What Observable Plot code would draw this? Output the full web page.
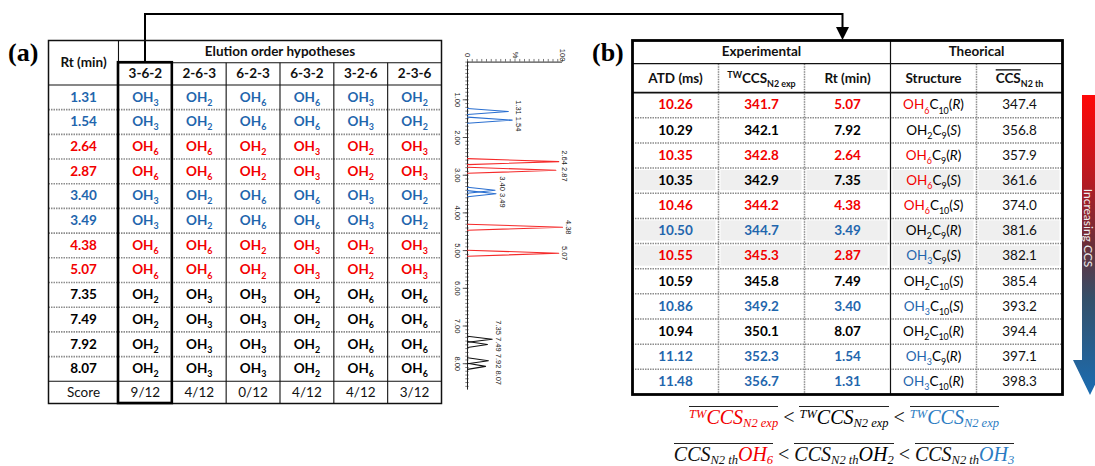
<!DOCTYPE html>
<html><head><meta charset="utf-8">
<script src="https://cdn.jsdelivr.net/npm/d3@7"></script>
<script src="https://cdn.jsdelivr.net/npm/@observablehq/plot@0.6"></script>
<style>
html,body{margin:0;padding:0;background:#fff;}
#root{position:relative;width:1095px;height:466px;overflow:hidden;background:#fff;font-family:Lato,sans-serif;}
.formula{position:absolute;left:594px;width:500px;text-align:center;font-family:"Liberation Serif",serif;font-style:italic;font-size:20px;line-height:19px;white-space:nowrap;}
.formula .ov{display:inline-block;border-top:1.3px solid #222;padding-top:1px;line-height:18px;}
.formula sub,.formula sup{font-size:12.5px;line-height:0;}
.formula sub{vertical-align:-3px;}
.formula sup{vertical-align:6px;}
.formula .lt{font-style:normal;margin:0 5px;color:#111;}
</style></head>
<body><div id="root"></div>
<script>
// ---------- colours by hydroxylation type ----------
const RED = "#f20000", BLUE = "#1f66ad", BLACK = "#000";
const typeDomain = ["OH6", "OH2", "OH3"];
const typeRange = [RED, BLACK, BLUE];

// ---------- table (a) ----------
const rtValues = ["1.31","1.54","2.64","2.87","3.40","3.49","4.38","5.07","7.35","7.49","7.92","8.07"];
const rtType   = ["OH3","OH3","OH6","OH6","OH3","OH3","OH6","OH6","OH2","OH2","OH2","OH2"];
const hypotheses = ["3-6-2","2-6-3","6-2-3","6-3-2","3-2-6","2-3-6"];
const groupOrder = ["OH3","OH6","OH2"]; // order of groups inside a hypothesis label
const scores = ["9/12","4/12","0/12","4/12","4/12","3/12"];

// ---------- chromatogram ----------
const peakRt = [1.31,1.54,2.64,2.87,3.40,3.49,4.38,5.07,7.35,7.49,7.92,8.07];
const peakHeight = [43,47,96,93,29,30,100,96,26,21,22,19];
const peakLabelGroups = [["1.31","1.54"],["2.64","2.87"],["3.40","3.49"],["4.38"],["5.07"],["7.35","7.49","7.92","8.07"]];
const timeTicks = [1,2,3,4,5,6,7,8];
const intensityLabels = ["0","%","100"];
const intensityLabelPos = [0,50,100];

// ---------- table (b) ----------
const atd    = ["10.26","10.29","10.35","10.35","10.46","10.50","10.55","10.59","10.86","10.94","11.12","11.48"];
const ccsExp = ["341.7","342.1","342.8","342.9","344.2","344.7","345.3","345.8","349.2","350.1","352.3","356.7"];
const rtB    = ["5.07","7.92","2.64","7.35","4.38","3.49","2.87","7.49","3.40","8.07","1.54","1.31"];
const structOH   = ["6","2","6","6","6","2","3","2","3","2","3","3"];
const structC    = ["10","9","9","9","10","9","9","10","10","10","9","10"];
const structChir = ["R","S","R","S","S","R","S","S","S","R","R","R"];
const ccsTh  = ["347.4","356.8","357.9","361.6","374.0","381.6","382.1","385.4","393.2","394.4","397.1","398.3"];
const headersB = ["ATD (ms)","^{TW}CCS_{N2 exp}","Rt (min)","Structure","!{CCS}_{N2 th}"];
const groupsB = ["Experimental","Theorical"];

// ---------- formulas ----------
const expColors = [RED, BLACK, "#2c7cc2"];
const thOH = ["6","2","3"];
const thColors = [RED, BLACK, "#2c7cc2"];

const root = document.getElementById("root");
function place(el, left, top) {
  el.style.position = "absolute"; el.style.left = left + "px"; el.style.top = top + "px";
  root.appendChild(el); return el;
}
const FS = 13.5;
const baseStyle = {fontFamily: "Lato, sans-serif", fontSize: FS + "px", background: "transparent", overflow: "visible", maxWidth: "none"};

function richText(svg, fs) {
  svg.querySelectorAll("text").forEach(t => {
    const s = t.textContent;
    if (!/[_^!]\{|\*|~/.test(s)) return;
    const segs = [];
    let italic = false, black = false, i = 0;
    while (i < s.length) {
      const c = s[i];
      if ("_^!".includes(c) && s[i+1] === "{") {
        const j = s.indexOf("}", i + 2);
        segs.push({text: s.slice(i+2, j), mode: c === "_" ? "sub" : c === "^" ? "sup" : "over", italic, black});
        i = j + 1;
      } else if (c === "*") { italic = !italic; i++; }
      else if (c === "~") { black = true; i++; }
      else {
        let j = i + 1;
        while (j < s.length && !("*~".includes(s[j]) || ("_^!".includes(s[j]) && s[j+1] === "{"))) j++;
        segs.push({text: s.slice(i, j), mode: "normal", italic, black});
        i = j;
      }
    }
    t.textContent = "";
    let shift = 0;
    for (const g of segs) {
      const sp = document.createElementNS("http://www.w3.org/2000/svg", "tspan");
      sp.textContent = g.text;
      let target = 0;
      if (g.mode === "sub") { target = 0.3 * fs; sp.setAttribute("font-size", 0.66 * fs); }
      else if (g.mode === "sup") { target = -0.42 * fs; sp.setAttribute("font-size", 0.66 * fs); }
      if (g.mode === "over") sp.setAttribute("text-decoration", "overline");
      const dy = target - shift;
      if (dy) sp.setAttribute("dy", dy);
      shift = target;
      if (g.italic) sp.setAttribute("font-style", "italic");
      if (g.black) sp.setAttribute("fill", "#000");
      t.appendChild(sp);
    }
  });
}

// ================= TABLE (a) =================
{
  const W = 397, H = 368;
  const rtW = 1.3, hdr = 0.9, top = 2 * hdr, n = rtValues.length;
  const xMax = rtW + hypotheses.length, yMax = top + n + hdr;
  const rows = rtValues.map((rt, i) => ({rt, type: rtType[i], x: rtW / 2, y: top + i + 0.5}));
  const cells = rows.flatMap(r => hypotheses.map((h, j) => ({
    x: rtW + j + 0.5, y: r.y, type: r.type,
    text: `OH_{${h.split("-")[groupOrder.indexOf(r.type)]}}`
  })));
  const scoreRow = [{x: rtW / 2, y: top + n + hdr / 2, text: "Score"}]
    .concat(scores.map((s, j) => ({x: rtW + j + 0.5, y: top + n + hdr / 2, text: s})));
  const headers = [{x: rtW / 2, y: hdr, text: "Rt (min)"},
    {x: rtW + hypotheses.length / 2, y: hdr / 2, text: "Elution order hypotheses"}]
    .concat(hypotheses.map((h, j) => ({x: rtW + j + 0.5, y: hdr * 1.5, text: h})));
  const solid = [
    {x1: rtW, x2: xMax, y1: hdr, y2: hdr},
    {x1: 0, x2: xMax, y1: top, y2: top},
    {x1: 0, x2: xMax, y1: top + n, y2: top + n},
    {x1: rtW, x2: rtW, y1: 0, y2: yMax},
    ...d3.range(1, hypotheses.length).map(j => ({x1: rtW + j, x2: rtW + j, y1: hdr, y2: yMax}))
  ];
  const dashed = d3.range(1, n).map(k => ({x1: 0, x2: xMax, y1: top + k, y2: top + k}));
  const sc = scores.map(s => +s.split("/")[0]);
  const best = sc.indexOf(d3.max(sc));
  const box = [{x1: rtW + best, x2: rtW + best + 1, y1: hdr, y2: yMax}];
  const L = {x1: "x1", x2: "x2", y1: "y1", y2: "y2"};
  const p = Plot.plot({
    width: W, height: H, marginLeft: 2, marginRight: 2, marginTop: 2, marginBottom: 3,
    x: {domain: [0, xMax], range: [2, W - 2], axis: null},
    y: {domain: [0, yMax], range: [2, H - 3], axis: null},
    color: {domain: typeDomain, range: typeRange},
    style: baseStyle,
    marks: [
      Plot.link(dashed, {...L, stroke: "#8c8c8c", strokeWidth: 1.6, strokeDasharray: "1.5,1"}),
      Plot.link(solid, {...L, stroke: "#111", strokeWidth: 1.1}),
      Plot.frame({stroke: "#111", strokeWidth: 1.5}),
      Plot.rect(box, {...L, fill: "none", stroke: "#000", strokeWidth: 2.6}),
      Plot.text(headers, {x: "x", y: "y", text: "text", fill: "#111", fontWeight: "bold"}),
      Plot.text(rows, {x: "x", y: "y", text: "rt", fill: "type", fontWeight: "bold"}),
      Plot.text(cells, {x: "x", y: "y", text: "text", fill: "type", fontWeight: "bold"}),
      Plot.text(scoreRow, {x: "x", y: "y", text: "text", fill: "#111"})
    ]
  });
  place(p, 46, 38);
  richText(p, FS);
}

// ================= CHROMATOGRAM =================
{
  const W = 140, H = 360, tMax = 8.7;
  const peaks = peakRt.map((rt, k) => ({k, rt, h: peakHeight[k], type: rtType[k]}));
  const halfBase = 0.08;
  const pts = peaks.flatMap(p => [
    {k: p.k, t: p.rt - halfBase, v: 0, type: p.type},
    {k: p.k, t: p.rt, v: p.h, type: p.type},
    {k: p.k, t: p.rt + halfBase, v: 0, type: p.type}
  ]);
  const labels = peakLabelGroups.map(g => {
    const idx = g.map(s => rtValues.indexOf(s));
    return {label: g.join(" "), t: d3.mean(idx, i => peakRt[i]), v: d3.max(idx, i => peakHeight[i])};
  });
  const minor = d3.range(0, tMax, 0.1);
  const iTicks = d3.range(0, 101, 5);
  const p = Plot.plot({
    width: W, height: H, marginLeft: 27, marginRight: 18, marginTop: 21.6, marginBottom: 10.4,
    x: {domain: [0, 100], range: [27, 122], axis: null},
    y: {domain: [0, tMax], range: [21.6, 349.6], axis: null},
    color: {domain: typeDomain, range: ["#f52a2a", "#111", "#2a6fd0"]},
    style: {...baseStyle, fontFamily: "'Liberation Sans', Arial, sans-serif", fontSize: "7.5px"},
    marks: [
      Plot.ruleY(minor, {y: d => d, x1: () => -1.8, x2: () => 1.8, stroke: "#444", strokeWidth: 0.7}),
      Plot.ruleY(timeTicks, {y: d => d, x1: () => -4.5, x2: () => 0, stroke: "#333", strokeWidth: 0.8}),
      Plot.ruleX(iTicks, {x: d => d, y1: () => 0, y2: () => -0.07, stroke: "#444", strokeWidth: 0.7}),
      Plot.ruleX([0], {stroke: "#222", strokeWidth: 1}),
      Plot.ruleY([0], {stroke: "#222", strokeWidth: 1}),
      Plot.line(pts, {x: "v", y: "t", z: "k", stroke: "type", strokeWidth: 1.1}),
      Plot.text(timeTicks, {x: () => 0, y: d => d, text: d => d.toFixed(2), rotate: 90, dx: -10, fill: "#222"}),
      Plot.text(intensityLabels, {x: (d, i) => intensityLabelPos[i], y: () => 0, text: d => d, rotate: 90, dy: -7, fill: "#222"}),
      Plot.text(labels, {x: "v", y: "t", text: "label", rotate: 90, dx: 6, fill: "#222"})
    ]
  });
  place(p, 440, 40);
}

// ================= TABLE (b) =================
{
  const W = 434, H = 359;
  const h1 = 0.92, h2 = 1.15, top = h1 + h2, n = atd.length, nc = 5;
  const yMax = top + n;
  const typeOfRt = new Map(rtValues.map((r, i) => [r, rtType[i]]));
  const rows = atd.map((a, i) => ({i, y: top + i + 0.5, type: typeOfRt.get(rtB[i]), sType: "OH" + structOH[i]}));
  const exp = rows.flatMap(r => [atd[r.i], ccsExp[r.i], rtB[r.i]].map((t, j) => ({x: j + 0.5, y: r.y, type: r.type, text: t})));
  const struct = rows.map(r => ({x: 3.5, y: r.y, type: r.sType,
    text: `OH_{${structOH[r.i]}}~C_{${structC[r.i]}}(*${structChir[r.i]}*)`}));
  const th = rows.map(r => ({x: 4.5, y: r.y, text: ccsTh[r.i]}));
  const shade = rows.filter(r => r.type !== r.sType)
    .flatMap(r => d3.range(nc).map(j => ({x1: j, x2: j + 1, y1: r.y - 0.5, y2: r.y + 0.5})));
  const headers = [{x: 1.5, y: h1 / 2, text: groupsB[0]}, {x: 4, y: h1 / 2, text: groupsB[1]}]
    .concat(headersB.map((t, j) => ({x: j + 0.5, y: h1 + h2 / 2 + 0.03, text: t})));
  const solidThin = [{x1: 0, x2: nc, y1: h1, y2: h1}, {x1: 3, x2: 3, y1: 0, y2: yMax}];
  const solidMid = [{x1: 0, x2: nc, y1: top, y2: top}];
  const dashed = d3.range(1, n).map(k => ({x1: 0, x2: nc, y1: top + k, y2: top + k}))
    .concat([1, 2, 4].map(j => ({x1: j, x2: j, y1: h1, y2: yMax})));
  const L = {x1: "x1", x2: "x2", y1: "y1", y2: "y2"};
  const p = Plot.plot({
    width: W, height: H, marginLeft: 2, marginRight: 2, marginTop: 2, marginBottom: 3,
    x: {domain: [0, nc], range: [2, W - 2], axis: null},
    y: {domain: [0, yMax], range: [2, H - 3], axis: null},
    color: {domain: typeDomain, range: typeRange},
    style: baseStyle,
    marks: [
      Plot.rect(shade, {...L, fill: "#efefef", inset: 2.5}),
      Plot.link(dashed, {...L, stroke: "#8c8c8c", strokeWidth: 1.5, strokeDasharray: "1.5,1"}),
      Plot.link(solidThin, {...L, stroke: "#111", strokeWidth: 1.2}),
      Plot.link(solidMid, {...L, stroke: "#111", strokeWidth: 1.8}),
      Plot.frame({stroke: "#000", strokeWidth: 2.8}),
      Plot.text(headers, {x: "x", y: "y", text: "text", fill: "#111", fontWeight: "bold"}),
      Plot.text(exp, {x: "x", y: "y", text: "text", fill: "type", fontWeight: "bold"}),
      Plot.text(struct, {x: "x", y: "y", text: "text", fill: "type"}),
      Plot.text(th, {x: "x", y: "y", text: "text", fill: "#111"})
    ]
  });
  place(p, 630, 38);
  richText(p, FS);
}

// ================= decorations: labels, connector arrow, CCS gradient arrow =================
{
  const ns = "http://www.w3.org/2000/svg";
  const svg = document.createElementNS(ns, "svg");
  svg.setAttribute("width", 1095); svg.setAttribute("height", 466);
  svg.style.position = "absolute"; svg.style.left = "0px"; svg.style.top = "0px"; svg.style.overflow = "visible";
  svg.innerHTML = `
  <defs><linearGradient id="ccsGrad" gradientUnits="userSpaceOnUse" x1="0" y1="95" x2="0" y2="395">
    <stop offset="0" stop-color="#ff0808"/>
    <stop offset="0.28" stop-color="#b81a22"/>
    <stop offset="0.5" stop-color="#6a2f3a"/>
    <stop offset="0.68" stop-color="#34506a"/>
    <stop offset="1" stop-color="#1b6db2"/>
  </linearGradient></defs>
  <text x="8" y="61" font-family="'Liberation Serif', serif" font-weight="bold" font-size="26">(a)</text>
  <text x="592" y="61" font-family="'Liberation Serif', serif" font-weight="bold" font-size="26">(b)</text>
  <path d="M145,62 V14 H842.5 V29" fill="none" stroke="#000" stroke-width="2"/>
  <path d="M836,27 H849 L842.5,40 Z" fill="#000"/>
  <path d="M1082,95 H1098 V360 H1107 L1090,395 L1073,360 H1082 Z" fill="url(#ccsGrad)"/>
  <text transform="translate(1088.5,228) rotate(90)" text-anchor="middle" dy="0.35em" font-family="Lato, sans-serif" font-size="12" fill="#eeeeee">Increasing CCS</text>`;
  root.insertBefore(svg, root.firstChild);
}

// ================= formulas =================
{
  const term = (color, inner) => `<span class="ov" style="color:${color}">${inner}</span>`;
  const lt = `<span class="lt">&lt;</span>`;
  const f1 = document.createElement("div");
  f1.className = "formula";
  f1.innerHTML = expColors.map(c => term(c, `<sup>TW</sup>CCS<sub>N2 exp</sub>`)).join(lt);
  place(f1, 594, 406);
  const f2 = document.createElement("div");
  f2.className = "formula";
  f2.innerHTML = thOH.map((o, i) => `<span class="ov" style="color:#111">CCS<sub>N2 th</sub><span style="color:${thColors[i]}">OH<sub>${o}</sub></span></span>`).join(lt);
  place(f2, 594, 443);
}
</script></body></html>
